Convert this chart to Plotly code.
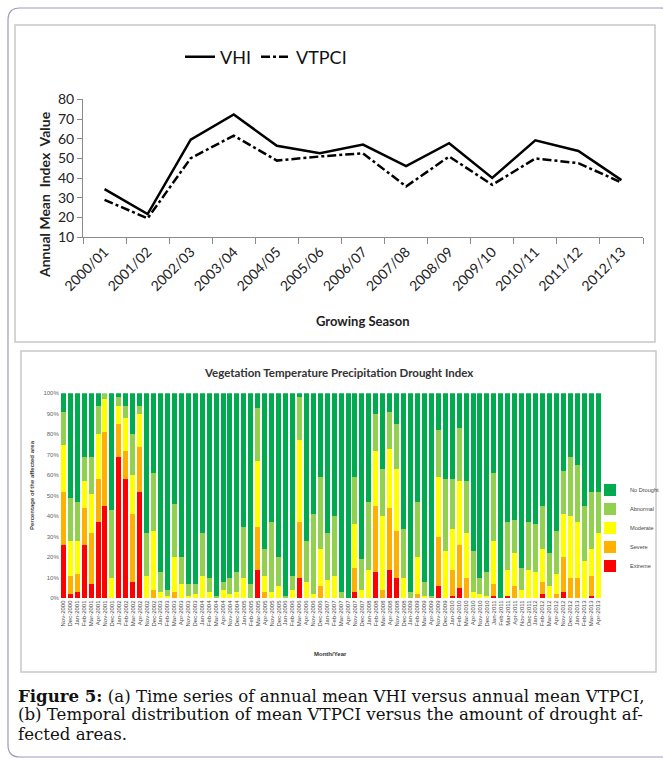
import plotly.graph_objects as go

W, H = 663, 760

def fx(x):
    return x / W

def fy(y):
    return 1 - y / H

# ---------------- (a) annual means ----------------
seasons = ["2000/01", "2001/02", "2002/03", "2003/04", "2004/05", "2005/06", "2006/07",
           "2007/08", "2008/09", "2009/10", "2010/11", "2011/12", "2012/13"]
vhi = [34.4, 21.8, 59.5, 72.3, 56.4, 52.6, 57.0, 46.1, 57.7, 40.1, 59.2, 53.8, 39.0]
vtpci = [29.0, 19.6, 50.1, 61.6, 48.9, 51.0, 52.6, 35.8, 51.0, 36.6, 50.0, 47.6, 37.8]

# ---------------- (b) monthly drought classes (% of area) ----------------
months = ["Nov", "Dec", "Jan", "Feb", "Mar", "Apr"]
month_labels = []
for y0 in range(2000, 2013):
    for m in months:
        yr = y0 if m in ("Nov", "Dec") else y0 + 1
        month_labels.append(f"{m}-{yr}")

extreme = [26, 2, 3, 26, 7, 37, 45, 0, 69, 58, 8, 52, 0, 0, 0, 0, 0, 0, 0, 0,
           0, 0, 0, 0, 0, 0, 0, 0, 14, 0, 0, 0, 0, 0, 10, 0, 0, 0, 0, 0,
           0, 0, 3, 0, 0, 13, 0, 14, 10, 0, 0, 0, 0, 0, 6, 0, 1, 5, 0, 0,
           0, 0, 1, 0, 1, 0, 0, 0, 0, 2, 0, 0, 3, 0, 0, 0, 1, 0]
severe = [26, 9, 9, 18, 25, 21, 36, 0, 16, 14, 33, 22, 0, 4, 0, 0, 3, 0, 0, 0,
          0, 0, 0, 0, 0, 0, 0, 0, 21, 3, 0, 0, 0, 0, 27, 0, 0, 6, 0, 0,
          0, 0, 12, 0, 0, 32, 4, 30, 23, 0, 0, 2, 0, 0, 24, 0, 13, 21, 10, 0,
          0, 0, 6, 0, 0, 6, 0, 0, 0, 6, 0, 2, 17, 10, 10, 0, 10, 0]
moderate = [23, 17, 16, 13, 19, 22, 16, 10, 9, 16, 19, 16, 11, 29, 3, 1, 17, 7, 1, 2,
            11, 3, 0, 4, 2, 3, 10, 0, 32, 8, 3, 6, 0, 4, 40, 8, 2, 18, 9, 11,
            0, 0, 21, 4, 14, 27, 36, 29, 30, 10, 0, 18, 1, 0, 29, 23, 20, 31, 22, 3,
            2, 1, 21, 0, 13, 16, 4, 14, 13, 16, 6, 10, 21, 30, 27, 18, 13, 32]
abnormal = [16, 21, 19, 12, 18, 14, 3, 33, 4, 6, 20, 4, 21, 28, 10, 3, 26, 13, 6, 5,
            21, 7, 1, 4, 8, 10, 25, 7, 26, 13, 34, 14, 1, 7, 21, 20, 39, 35, 23, 29,
            3, 0, 23, 15, 33, 18, 23, 18, 22, 24, 3, 27, 7, 1, 23, 35, 24, 26, 25, 20,
            8, 12, 33, 0, 23, 16, 11, 23, 23, 21, 16, 21, 21, 29, 28, 27, 28, 20]
no_drought = [9, 51, 53, 31, 31, 6, 0, 57, 2, 6, 20, 6, 68, 39, 87, 96, 54, 80, 93, 93,
              68, 90, 99, 92, 90, 87, 65, 93, 7, 76, 63, 80, 99, 89, 2, 72, 59, 41, 68, 60,
              97, 100, 41, 81, 53, 10, 37, 9, 15, 66, 97, 53, 92, 99, 18, 42, 42, 17, 43, 77,
              90, 87, 39, 100, 63, 62, 85, 63, 64, 55, 78, 67, 38, 31, 35, 55, 48, 48]

classes = [("Extreme", extreme, "#ff0000"),
           ("Severe", severe, "#ffb000"),
           ("Moderate", moderate, "#ffff00"),
           ("Abnormal", abnormal, "#92d050"),
           ("No Drought", no_drought, "#00ab50")]

fig = go.Figure()

fig.add_trace(go.Scatter(x=seasons, y=vhi, name="VHI", mode="lines",
                         line=dict(color="black", width=2.5),
                         xaxis="x", yaxis="y", legend="legend"))
fig.add_trace(go.Scatter(x=seasons, y=vtpci, name="VTPCI", mode="lines",
                         line=dict(color="black", width=2.5, dash="dashdot"),
                         xaxis="x", yaxis="y", legend="legend"))

for name, vals, col in classes:
    fig.add_trace(go.Bar(x=month_labels, y=vals, name=name, marker=dict(color=col, line=dict(width=0)),
                         xaxis="x2", yaxis="y2", legend="legend2"))

LATO = "Lato, Calibri, Arial, sans-serif"
ARIAL = "Arial, Liberation Sans, sans-serif"

fig.update_layout(
    width=W, height=H,
    margin=dict(l=0, r=0, t=0, b=0, autoexpand=False),
    paper_bgcolor="white", plot_bgcolor="white",
    barmode="stack", bargap=0.28,
    font=dict(family=LATO, color="#222"),
    showlegend=True,
    xaxis=dict(domain=[fx(83), fx(643)], type="category", range=[-0.5, 12.5],
               showline=True, linecolor="#8a8a8a", linewidth=1,
               ticks="outside", tickson="boundaries", ticklen=6, tickcolor="#8a8a8a",
               tickangle=-45, tickfont=dict(size=14, family=LATO, color="#222"),
               showgrid=False, zeroline=False, anchor="y", automargin=False),
    yaxis=dict(domain=[fy(237.3), fy(99.3)], range=[10, 80], dtick=10,
               showline=True, linecolor="#8a8a8a", linewidth=1,
               ticks="outside", ticklen=5, tickcolor="#8a8a8a",
               tickfont=dict(size=14, family=LATO, color="#222"),
               showgrid=False, zeroline=False, anchor="x", automargin=False),
    xaxis2=dict(domain=[fx(59.8), fx(601.5)], type="category", range=[-0.5, 77.5],
                showline=False, ticks="", tickangle=-90, dtick=1,
                tickfont=dict(size=6, family=ARIAL, color="#444"),
                showgrid=False, zeroline=False, anchor="y2", automargin=False),
    yaxis2=dict(domain=[fy(598.3), fy(393.3)], range=[0, 100], dtick=10, ticksuffix="%",
                showline=False, ticks="", showgrid=False, zeroline=False,
                tickfont=dict(size=6, family=ARIAL, color="#666"),
                anchor="x2", automargin=False),
    legend=dict(orientation="h", x=fx(266), y=fy(57), xanchor="center", yanchor="middle",
                font=dict(size=18, family=LATO, color="#111"), itemwidth=30,
                bgcolor="rgba(0,0,0,0)", traceorder="normal"),
    legend2=dict(x=fx(590), y=fy(528), xanchor="left", yanchor="middle",
                 font=dict(size=5.6, family=ARIAL, color="#444"),
                 traceorder="reversed", bgcolor="rgba(0,0,0,0)", itemwidth=30,
                 tracegroupgap=0),
)

ann = []
# (a) axis titles
ann.append(dict(text="<b>Annual Mean  Index  Value</b>", x=fx(45), y=fy(195), xref="paper", yref="paper",
                xanchor="center", yanchor="middle",
                showarrow=False, textangle=-90, font=dict(size=14, family=LATO, color="#222")))
ann.append(dict(text="<b>Growing Season</b>", x=fx(363), y=fy(321), xref="paper", yref="paper",
                xanchor="center", yanchor="middle",
                showarrow=False, font=dict(size=13, family=LATO, color="#222")))
# (b) titles
ann.append(dict(text="<b>Vegetation Temperature Precipitation Drought Index</b>", x=fx(338), y=fy(372),
                xref="paper", yref="paper", showarrow=False, xanchor="center", yanchor="middle",
                font=dict(size=11.5, family=LATO, color="#333")))
ann.append(dict(text="<b>Percentage of the affected area</b>", x=fx(32), y=fy(485), xref="paper", yref="paper",
                showarrow=False, textangle=-90, xanchor="center", yanchor="middle",
                font=dict(size=6, family=ARIAL, color="#444")))
ann.append(dict(text="<b>Month/Year</b>", x=fx(330), y=fy(654), xref="paper", yref="paper",
                showarrow=False, xanchor="center", yanchor="middle",
                font=dict(size=6, family=ARIAL, color="#333")))
# caption
SERIF = "DejaVu Serif, Liberation Serif, serif"
cap = ["<b>Figure 5:</b> (a) Time series of annual mean VHI versus annual mean VTPCI,",
       "(b) Temporal distribution of mean VTPCI versus the amount of drought af-",
       "fected areas."]
for i, t in enumerate(cap):
    ann.append(dict(text=t, x=fx(16), y=fy(695.5 + 19.3 * i), xref="paper", yref="paper",
                    xanchor="left", yanchor="middle", showarrow=False,
                    font=dict(size=16.6, family=SERIF, color="#111")))
fig.update_layout(annotations=ann)

# frames
def rounded(x0, y0, x1, y1, r):
    X0, X1 = fx(x0), fx(x1)
    Y0, Y1 = fy(y0), fy(y1)
    rx, ry = r / W, r / H
    return (f"M {X0+rx},{Y0} L {X1-rx},{Y0} Q {X1},{Y0} {X1},{Y0-ry} "
            f"L {X1},{Y1+ry} Q {X1},{Y1} {X1-rx},{Y1} L {X0+rx},{Y1} "
            f"Q {X0},{Y1} {X0},{Y1+ry} L {X0},{Y0-ry} Q {X0},{Y0} {X0+rx},{Y0} Z")

shapes = [
    dict(type="path", path=rounded(8, 8, 672, 757, 12), xref="paper", yref="paper",
         line=dict(color="#9b9bbd", width=1.2)),
    dict(type="rect", x0=fx(15), x1=fx(655), y0=fy(342), y1=fy(25), xref="paper", yref="paper",
         line=dict(color="#c8c8c8", width=1.5)),
    dict(type="rect", x0=fx(21), x1=fx(656), y0=fy(672), y1=fy(351), xref="paper", yref="paper",
         line=dict(color="#c8c8c8", width=1.5)),
]
fig.update_layout(shapes=shapes)

fig.write_html("out.html")
